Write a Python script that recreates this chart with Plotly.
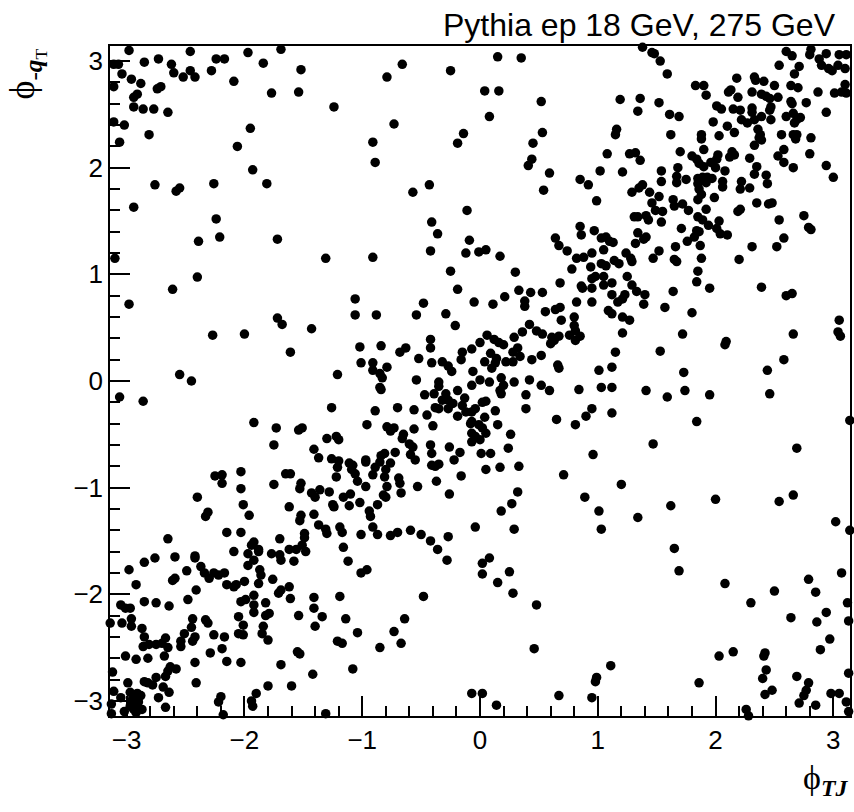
import plotly.graph_objects as go

# (phi_TJ, phi_-qT) pairs, grouped by region
upper_left = [(-2.98,3.10),(-3.11,2.97),(-3.07,2.97),(-2.85,2.99),(-2.73,3.02),(-2.62,2.97),(-2.46,3.09),(-2.24,3.02),(-2.17,3.02),(-1.97,3.08),(-1.84,2.98),(-1.69,3.11),(-3.04,2.88),(-2.96,2.83),(-2.88,2.79),(-3.11,2.76),(-2.60,2.89),(-2.52,2.85),(-2.46,2.91),(-2.42,2.85),(-2.28,2.91),(-2.09,2.81),(-1.52,2.92),(-2.74,2.74),(-2.71,2.76),(-2.94,2.66),(-2.91,2.69),(-1.77,2.70),(-1.54,2.71),(-2.94,2.57),(-2.86,2.55),(-2.77,2.55),(-2.65,2.52),(-3.11,2.43),(-3.02,2.40),(-2.81,2.31),(-3.06,2.24),(-1.95,2.37),(-2.06,2.20),(-1.93,1.98),(-1.81,1.85),(-2.76,1.84),(-2.58,1.78),(-2.55,1.81),(-2.26,1.85),(-2.94,1.63),(-2.24,1.52),(-2.39,1.31),(-2.21,1.35),(-1.72,1.33),(-3.10,1.15),(-1.31,1.15),(-0.91,1.16)]

upper_mid = [(-0.79,2.85),(-0.66,2.97),(-0.25,2.91),(0.15,3.04),(0.35,3.03),(-1.24,2.57),(-0.91,2.24),(-0.89,2.05),(-0.73,2.41),(0.04,2.72),(0.16,2.72),(0.08,2.48),(0.52,2.62),(-0.14,2.32),(-0.19,2.23),(0.53,2.33),(0.45,2.23),(0.44,2.08),(0.41,2.02),(0.59,1.95),(0.54,1.79),(-0.57,1.77),(-0.43,1.84),(-0.11,1.60),(-0.41,1.49),(-0.36,1.38),(-0.09,1.32),(-0.42,1.22),(-0.12,1.20),(-0.01,1.21),(0.05,1.23),(0.17,1.17),(-0.25,1.03),(0.30,1.02)]

upper_right = [(1.38,3.13),(1.46,3.08),(1.48,3.07),(1.53,3.00),(1.59,2.88),(1.19,2.64),(1.36,2.65),(1.52,2.61),(1.34,2.53),(1.61,2.50),(1.69,2.48),(1.16,2.36),(1.15,2.31),(1.62,2.31),(1.83,2.77),(1.90,2.77),(1.92,2.68),(2.18,2.84),(2.33,2.85),(2.34,2.82),(2.41,2.81),(2.50,2.77),(2.64,2.77),(2.70,2.75),(2.11,2.71),(2.13,2.73),(2.19,2.66),(2.31,2.71),(2.39,2.69),(2.46,2.65),(2.53,2.66),(2.43,2.67),(2.64,2.62),(2.65,2.60),(2.77,2.61),(2.47,2.57),(2.46,2.54),(2.87,2.71),(2.01,2.58),(2.05,2.55),(2.15,2.55),(2.21,2.54),(2.31,2.56),(2.31,2.52),(2.22,2.45),(2.27,2.42),(2.33,2.45),(2.39,2.48),(2.47,2.45),(1.98,2.43),(2.10,2.39),(2.16,2.33),(2.60,2.48),(2.66,2.51),(2.69,2.45),(2.72,2.47),(2.67,2.42),(2.94,2.52),(2.36,2.36),(2.38,2.31),(2.39,2.26),(2.33,2.21),(2.37,2.28),(2.56,2.31),(2.66,2.31),(2.68,2.27),(2.69,2.31),(2.81,2.28),(1.88,2.27),(1.88,2.31),(2.03,2.30),(1.70,2.15),(1.90,2.17),(2.02,2.12),(2.14,2.15),(2.16,2.12),(2.12,2.10),(1.80,2.11),(1.84,2.08),(2.01,2.08),(2.29,2.09),(2.35,2.01),(2.33,1.94),(2.43,1.93),(2.44,1.85),(2.53,2.11),(2.58,2.17),(2.58,2.05),(2.66,2.00),(2.80,2.13),(2.94,2.02),(3.00,1.91),
    (2.60,3.09),(2.65,3.05),(2.80,3.06),(2.81,3.11),(2.94,3.07),(3.05,3.06),(3.11,3.06),(2.88,3.02),(2.54,2.96),(2.71,2.95),(2.90,2.96),(2.96,2.93),(2.99,2.91),(3.04,2.96),(3.10,2.93),(2.67,2.88),(3.01,2.70),(3.07,2.71),(3.10,2.78),(3.11,2.70)]

mid_right = [(1.08,2.13),(1.27,2.13),(1.32,2.14),(1.36,2.07),(1.02,1.97),(1.21,1.96),(0.85,1.89),(0.92,1.84),(0.99,1.69),(1.54,1.97),(1.54,1.87),(1.68,2.00),(1.67,1.92),(1.67,1.86),(1.75,1.89),(1.86,2.04),(1.90,2.01),(1.96,2.05),(2.00,2.00),(2.08,1.97),(1.85,1.90),(1.89,1.91),(1.93,1.91),(1.97,1.90),(1.85,1.85),(1.92,1.86),(1.86,1.80),(1.88,1.75),(1.85,1.70),(2.06,1.87),(2.06,1.82),(2.22,1.87),(2.21,1.80),(2.29,1.81),(1.99,1.72),(1.38,1.84),(1.35,1.81),(1.29,1.77),(1.44,1.77),(1.52,1.73),(1.46,1.67),(1.64,1.70),(1.65,1.64),(1.72,1.66),(1.77,1.60),(1.92,1.61),(1.49,1.60),(1.55,1.59),(1.54,1.49),(1.41,1.55),(1.34,1.54),(1.31,1.54),(1.43,1.51),(1.85,1.54),(1.89,1.51),(1.94,1.46),(2.03,1.50),(2.01,1.43),(2.04,1.38),(2.10,1.37),(2.21,1.61),(2.19,1.59),(2.35,1.67),(2.45,1.66),(2.48,1.67),(2.54,1.51),(2.75,1.55),(2.79,1.44),(2.81,1.42),(2.58,1.34),(2.52,1.26),(2.31,1.26),(2.20,1.14),(1.71,1.43),(1.84,1.41),(1.86,1.40),(1.82,1.35),(1.76,1.31),(1.87,1.27),(1.66,1.26),(1.65,1.14),(1.67,1.12),(1.88,1.15),(1.85,1.03),(1.47,1.15),(1.52,1.22),(1.34,1.39),(1.41,1.35),(1.39,1.33),(1.32,1.29),(0.85,1.45),(0.86,1.37),(0.97,1.41),(1.03,1.34),(1.07,1.35),(1.10,1.31),(1.13,1.30),(1.05,1.23),(0.64,1.34),(0.67,1.27),(0.74,1.22),(0.82,1.15),(0.88,1.16),(0.95,1.20),(1.03,1.10),(1.07,1.08),(1.14,1.13),(1.18,1.10),(1.24,1.20),(1.28,1.15),(1.29,1.12),(0.78,1.05),(0.94,1.07)]

right_band = [(-2.40,0.975),(0.95,0.96),(0.98,0.98),(1.05,0.98),(1.12,0.92),(1.05,0.90),(0.95,0.87),(0.87,0.87),(0.86,0.89),(0.68,0.92),(1.25,0.98),(1.29,0.90),(1.33,0.84),(1.40,0.81),(1.12,0.81),(1.23,0.81),(1.21,0.77),(1.17,0.74),(1.39,0.72),(1.27,0.57),(1.21,0.60),(1.12,0.63),(1.09,0.66),(0.95,0.74),(0.82,0.74),(1.64,0.84),(1.57,0.69),(1.80,0.64),(1.84,0.93),(1.95,0.87),(1.21,0.45),(1.15,0.27),(1.12,0.13),(1.01,0.10),(1.72,0.44),(1.53,0.28),(2.09,0.37),(2.08,0.34),(1.73,0.08),(1.74,-0.09),(1.59,-0.15),(1.41,-0.09),(1.12,-0.06),(1.03,-0.06),(0.84,-0.08),(1.95,-0.13),(2.39,0.88),(2.60,0.80),(2.65,0.82),(3.05,0.57),(3.04,0.46),(3.06,0.42),(2.66,0.44),(2.58,0.20),(2.44,0.10),(2.46,-0.12),(0.95,-0.26),(0.90,-0.33),(0.81,-0.41),(1.12,-0.30),(0.65,-0.36),(1.84,-0.38),(1.47,-0.59),(0.96,-0.69),(0.71,-0.88),(1.20,-0.97),(3.14,-0.37),(2.69,-0.63)]

centre_upper = [(0.555,0.65),(0.68,0.69),(0.64,0.67),(0.80,0.60),(0.69,0.57),(0.80,0.52),(0.81,0.47),(0.85,0.42),(0.81,0.38),(0.76,0.43),(0.67,0.42),(0.61,0.41),(0.60,0.35),(0.63,0.38),(0.53,0.44),(0.48,0.47),(0.42,0.53),(0.36,0.46),(0.43,0.83),(0.38,0.75),(0.38,0.70),(0.53,0.83),(0.33,0.85),(0.21,0.79),(0.11,0.72),(-0.05,0.74),(-0.19,0.86),
    (0.29,0.41),(0.32,0.31),(0.28,0.27),(0.34,0.23),(0.28,0.18),(0.22,0.18),(0.20,0.34),(0.12,0.39),(0.16,0.36),(0.06,0.43),(0.00,0.36),(-0.07,0.30),(-0.15,0.27),(-0.16,0.20),(-0.27,0.14),(-0.32,0.18),(-0.24,0.09),(-0.41,0.17),(-0.52,0.21),(-0.42,0.31),(-0.42,0.39),(-0.63,0.31),(-0.68,0.27),
    (0.09,0.26),(0.14,0.21),(0.13,0.17),(0.10,0.12),(0.04,0.18),(-0.06,0.09),(-0.07,-0.04),(0.00,0.01),(0.08,-0.01),(0.18,0.03),(0.20,-0.04),(0.29,-0.01),(0.18,-0.12),(0.17,-0.09),(0.42,0.01),(0.39,-0.13),(0.39,-0.26),(0.52,-0.04),(0.59,-0.09),(0.66,0.15),(0.67,0.12),(0.44,0.20),(0.52,0.24)]

centre_lower = [(-0.35,-0.01),(-0.35,-0.05),(-0.39,-0.12),(-0.47,-0.13),(-0.29,-0.12),(-0.27,-0.18),(-0.19,-0.09),(-0.13,-0.16),(-0.15,-0.23),(-0.23,-0.21),(-0.27,-0.26),(-0.35,-0.26),(-0.38,-0.25),(-0.32,-0.18),(-0.19,-0.33),(-0.12,-0.29),(-0.07,-0.29),(-0.04,-0.26),(0.02,-0.20),(0.05,-0.19),(0.13,-0.28),(0.04,-0.34),(-0.07,-0.38),(-0.08,-0.40),(-0.01,-0.41),(0.02,-0.44),(0.05,-0.49),(-0.07,-0.49),(-0.07,-0.57),(0.00,-0.55),(-0.04,-0.52),(0.15,-0.41),(0.26,-0.50),(0.24,-0.63),(0.33,-0.80),(0.17,-0.81),(0.05,-0.83),(0.09,-0.68),(0.01,-0.68),(-0.17,-0.67),(-0.22,-0.74),(-0.26,-0.62),(-0.35,-0.78),(-0.38,-0.80),(-0.41,-0.79),(-0.41,-0.68),(-0.42,-0.60),(-0.40,-0.42),(-0.45,-0.32),(-0.56,-0.27),(-0.70,-0.25),(-0.89,-0.28),(-0.96,-0.41),(-0.79,-0.43),(-0.73,-0.44),(-0.76,-0.47),(-0.56,-0.45),(-0.65,-0.50),(-0.66,-0.54),(-0.60,-0.59),(-0.57,-0.62),(-0.59,-0.69),(-0.55,-0.74),(-0.72,-0.67),(-0.81,-0.68),(-0.84,-0.70),(-0.85,-0.76),(-0.76,-0.77),(-0.80,-0.83),(-0.89,-0.81),(-0.81,-0.90),(-0.91,-0.88),(-0.97,-0.74),(-0.97,-0.76),
    (-0.53,-0.99),(-0.67,-1.05),(-0.82,-1.07),(-0.79,-0.99),(-0.69,-0.91),(-0.68,-0.96),(-0.37,-0.94),(-0.26,-1.06),(-0.16,-0.89)]

mid_left = [(-0.54,0.62),(-0.29,0.63),(-0.21,0.52),(-0.48,0.73),(-0.84,0.33),(-1.02,0.32),(-1.01,0.17),(-0.91,0.17),(-0.79,0.13),(-0.91,0.10),(-0.85,0.07),(-0.83,0.03),(-0.85,-0.06),(-0.84,-0.08),(-0.54,0.01),(-1.21,0.06),(-1.06,0.77),(-1.06,0.62),(-0.88,0.62),(-1.26,-0.25),(-1.43,0.49),(-1.61,0.27),(-1.68,0.53),(-1.72,0.59),(-2.00,0.44),(-2.27,0.43),(-2.55,0.06),(-2.45,0.00),(-2.61,0.86),(-2.98,0.72),(-3.06,-0.15),(-2.86,-0.19),(-1.92,-0.39),(-1.73,-0.44),(-1.54,-0.46),(-1.51,-0.44),(-1.30,-0.54),(-1.22,-0.52),(-1.20,-0.55),(-1.75,-0.60),(-1.41,-0.64),(-1.37,-0.72),(-1.26,-0.73),(-1.20,-0.75),(-1.21,-0.81),(-1.11,-0.77),(-1.08,-0.79),(-1.09,-0.83),(-1.06,-0.87),(-1.22,-0.90),(-1.04,-0.94),(-0.97,-0.99),(-1.10,-1.06),(-1.16,-1.09),(-1.28,-1.04),(-1.36,-1.02),(-1.43,-1.05),(-1.40,-1.09),(-1.52,-0.96),(-1.53,-1.01),(-1.61,-0.87),(-1.65,-0.87),(-1.75,-0.97),(-2.03,-0.85),(-2.03,-1.01),(-2.19,-0.88),(-2.25,-0.89),(-2.19,-0.96),(-2.40,-1.09)]

lower_scatter = [(-2.01,-1.16),(-1.96,-1.26),(-2.31,-1.23),(-2.33,-1.27),(-1.62,-1.18),(-1.52,-1.26),(-1.53,-1.31),(-1.41,-1.25),(-1.25,-1.16),(-1.24,-1.18),(-1.11,-1.17),(-1.02,-1.14),(-0.94,-1.22),(-0.93,-1.27),(-0.87,-1.16),(-0.80,-1.09),(0.32,-1.04),(0.89,-1.09),(1.01,-1.22),(1.03,-1.39),(1.34,-1.28),(1.62,-1.17),(1.65,-1.57),(1.69,-1.78),(2.00,-1.11),(2.08,-1.90),(2.54,-1.13),(2.66,-1.07),
    (-0.04,-1.37),(0.18,-1.22),(0.27,-1.15),(0.29,-1.39),(0.02,-1.71),(0.02,-1.81),(0.08,-1.66),(0.15,-1.89),(0.25,-1.79),(0.28,-1.99),(0.48,-2.10),(0.46,-2.51),(1.11,-2.67),(0.99,-2.78),(0.98,-2.82),(0.67,-2.95),(0.95,-2.97),(0.14,-3.04),(-0.07,-2.93),(0.02,-2.93)]

lower_right = [(3.02,-1.32),(3.14,-1.40),(3.07,-1.80),(2.79,-1.86),(2.85,-1.98),(2.50,-1.97),(2.30,-2.08),(3.12,-2.08),(2.94,-2.17),(2.64,-2.22),(2.86,-2.26),(3.13,-2.25),(2.97,-2.42),(2.89,-2.52),(2.42,-2.55),(2.41,-2.58),(2.15,-2.54),(2.03,-2.58),(2.43,-2.71),(2.40,-2.79),(2.48,-2.90),(2.42,-2.94),(2.69,-2.77),(2.79,-2.83),(2.77,-2.90),(2.75,-2.95),(2.71,-3.02),(2.85,-3.04),(2.98,-2.93),(3.05,-2.93),(3.11,-3.01),(3.13,-3.10),(3.13,-2.74),(1.86,-2.83),(2.26,-3.08),(2.28,-3.14)]

lower_band = [(-0.27,-1.46),(-0.28,-1.68),(-0.36,-1.58),(-0.42,-1.50),(-0.50,-1.44),(-0.59,-1.40),(-0.70,-1.42),(-0.76,-1.45),(-0.87,-1.44),(-0.91,-1.37),(-1.01,-1.44),(-0.96,-1.77),(-1.01,-1.80),(-1.12,-1.69),(-1.16,-1.56),(-1.17,-1.42),(-1.19,-1.37),(-1.30,-1.43),(-1.31,-1.39),(-1.37,-1.35),(-1.49,-1.43),(-1.49,-1.47),(-1.51,-1.54),(-1.48,-1.60),(-1.56,-1.58),(-1.62,-1.58),(-1.58,-1.69),(-1.69,-1.68),(-1.70,-1.63),(-1.70,-1.48),(-1.77,-1.62),(-1.88,-1.58),(-1.88,-1.60),(-1.97,-1.62),(-1.92,-1.68),(-1.97,-1.73),(-1.87,-1.77),(-1.86,-1.82),(-1.88,-1.90),(-2.00,-1.88),(-2.07,-1.91),(-2.09,-1.93),(-2.15,-1.91),(-2.17,-1.80),(-2.22,-1.82),(-2.26,-1.80),(-2.30,-1.85),(-2.34,-1.80),(-2.37,-1.74),(-2.42,-1.66),(-2.42,-1.64),(-2.49,-1.78),(-2.59,-1.85),(-2.61,-1.87),(-2.59,-1.65),(-2.76,-1.66),(-2.85,-1.70),(-2.98,-1.77),(-2.92,-1.91),(-2.65,-1.48),(-2.15,-1.42),(-2.03,-1.42),(-2.09,-1.60),(-1.92,-1.51),(-1.94,-1.54)]

lower_left = [(-0.48,-2.02),(-0.64,-2.23),(-0.73,-2.35),(-0.67,-2.46),(-0.85,-2.50),(-1.04,-2.36),(-1.14,-2.23),(-1.08,-2.70),(-1.17,-2.46),(-1.21,-2.44),(-1.19,-2.02),(-1.34,-2.21),(-1.41,-2.03),(-1.41,-2.13),(-1.40,-2.30),(-1.42,-2.75),(-1.53,-2.56),(-1.55,-2.54),(-1.60,-2.86),(-1.69,-2.66),(-1.54,-2.20),(-1.61,-2.04),(-1.62,-1.93),(-1.71,-1.99),(-1.69,-1.96),(-1.76,-1.86),(-1.82,-2.08),(-1.79,-2.18),(-1.82,-2.20),(-1.84,-2.30),(-1.85,-2.37),(-1.80,-2.43),(-1.92,-2.01),(-1.92,-2.10),(-1.92,-2.17),(-1.99,-2.05),(-2.03,-2.07),(-2.05,-2.21),(-2.05,-2.37),(-2.01,-2.38),(-2.01,-2.29),(-2.03,-2.64),(-2.15,-2.63),(-2.17,-2.40),(-2.19,-2.51),(-2.26,-2.38),(-2.29,-2.55),(-2.33,-2.24),(-2.31,-2.27),(-2.41,-1.96),(-2.48,-2.05),(-2.44,-2.23),(-2.45,-2.31),(-2.42,-2.40),(-2.44,-2.44),(-2.51,-2.37),(-2.54,-2.44),(-2.54,-2.49),(-2.65,-2.50),(-2.67,-2.41),(-2.70,-2.46),(-2.75,-2.47),(-2.81,-2.47),(-2.86,-2.49),(-2.87,-2.32),(-2.85,-2.40),(-2.96,-2.30),(-2.97,-2.13),(-3.05,-2.10),(-3.01,-2.13),(-2.96,-2.23),(-3.04,-2.27),(-3.14,-2.27),(-2.85,-2.07),(-2.75,-2.08),(-2.64,-2.11),(-2.42,-2.64),(-2.41,-2.83),(-2.68,-2.58),(-2.82,-2.60),(-2.92,-2.61),(-3.01,-2.58),(-3.12,-2.73),(-3.11,-2.91),(-2.99,-2.83),(-2.97,-2.92),(-2.85,-2.82),(-2.82,-2.83),(-2.75,-2.78),(-2.78,-2.85),(-2.69,-2.87),(-2.67,-2.77),(-2.63,-2.68),(-2.58,-2.70),(-2.65,-2.72),(-2.64,-2.92),(-2.73,-2.97),(-2.67,-3.06),(-2.93,-2.96),(-2.90,-3.01),(-2.93,-3.05),(-2.92,-3.11),(-2.87,-3.08),(-3.02,-3.10),(-3.13,-3.03),(-3.13,-3.12),(-1.80,-2.86),(-1.90,-2.93),(-1.94,-3.00),(-1.93,-3.05),(-2.20,-2.96),(-2.22,-3.01),(-2.18,-3.13),(-1.31,-3.12),
    (-2.95,-2.98),(-2.91,-2.93),(-2.94,-3.08),(-2.88,-2.95),(-2.97,-3.05),(-3.05,-2.97)]

groups = [upper_left, upper_mid, upper_right, mid_right, right_band, centre_upper,
          centre_lower, mid_left, lower_scatter, lower_right, lower_band, lower_left]

phi_tj = [p[0] for g in groups for p in g]
phi_qt = [p[1] for g in groups for p in g]

x_ticks = [-3, -2, -1, 0, 1, 2, 3]
y_ticks = [-3, -2, -1, 0, 1, 2, 3]
PI = 3.14159265

fig = go.Figure()
fig.add_trace(go.Scatter(
    x=phi_tj, y=phi_qt, mode="markers",
    marker=dict(color="black", size=9.5, line=dict(width=0)),
    cliponaxis=False, hoverinfo="skip", showlegend=False))

axis_common = dict(
    range=[-PI, PI], showgrid=False, zeroline=False,
    showline=True, linecolor="black", linewidth=1.5, mirror=True,
    ticks="inside", tickcolor="black", tickwidth=1.5, ticklen=20,
    tickfont=dict(family="Liberation Sans, Arial, sans-serif", size=26, color="black"),
    minor=dict(dtick=0.2, ticks="inside", ticklen=10, tickcolor="black", tickwidth=1.5),
)
fig.update_xaxes(tickvals=x_ticks, **axis_common)
fig.update_yaxes(tickvals=y_ticks, **axis_common)

fig.update_layout(
    width=854, height=812,
    margin=dict(l=110, r=2, t=46, b=96),
    plot_bgcolor="white", paper_bgcolor="white",
    font=dict(family="Liberation Sans, Arial, sans-serif", color="black"),
    annotations=[
        dict(text="Pythia ep 18 GeV, 275 GeV", xref="paper", yref="paper",
             x=0.984, y=1.032, xanchor="right", yanchor="middle", showarrow=False,
             font=dict(size=32, family="Liberation Sans, Arial, sans-serif")),
        dict(text="ϕ<sub><b><i>TJ</i></b></sub>", xref="paper", yref="paper",
             x=1.0, y=-0.095, xanchor="right", yanchor="middle", showarrow=False,
             font=dict(size=34, family="Liberation Serif, DejaVu Serif, serif")),
        dict(text="ϕ<sub>-<b><i>q</i></b><sub>T</sub></sub>", xref="paper", yref="paper",
             x=-0.113, y=0.958, xanchor="center", yanchor="middle", showarrow=False,
             textangle=-90,
             font=dict(size=36, family="Liberation Serif, DejaVu Serif, serif")),
    ],
)

fig.write_html("out.html")
